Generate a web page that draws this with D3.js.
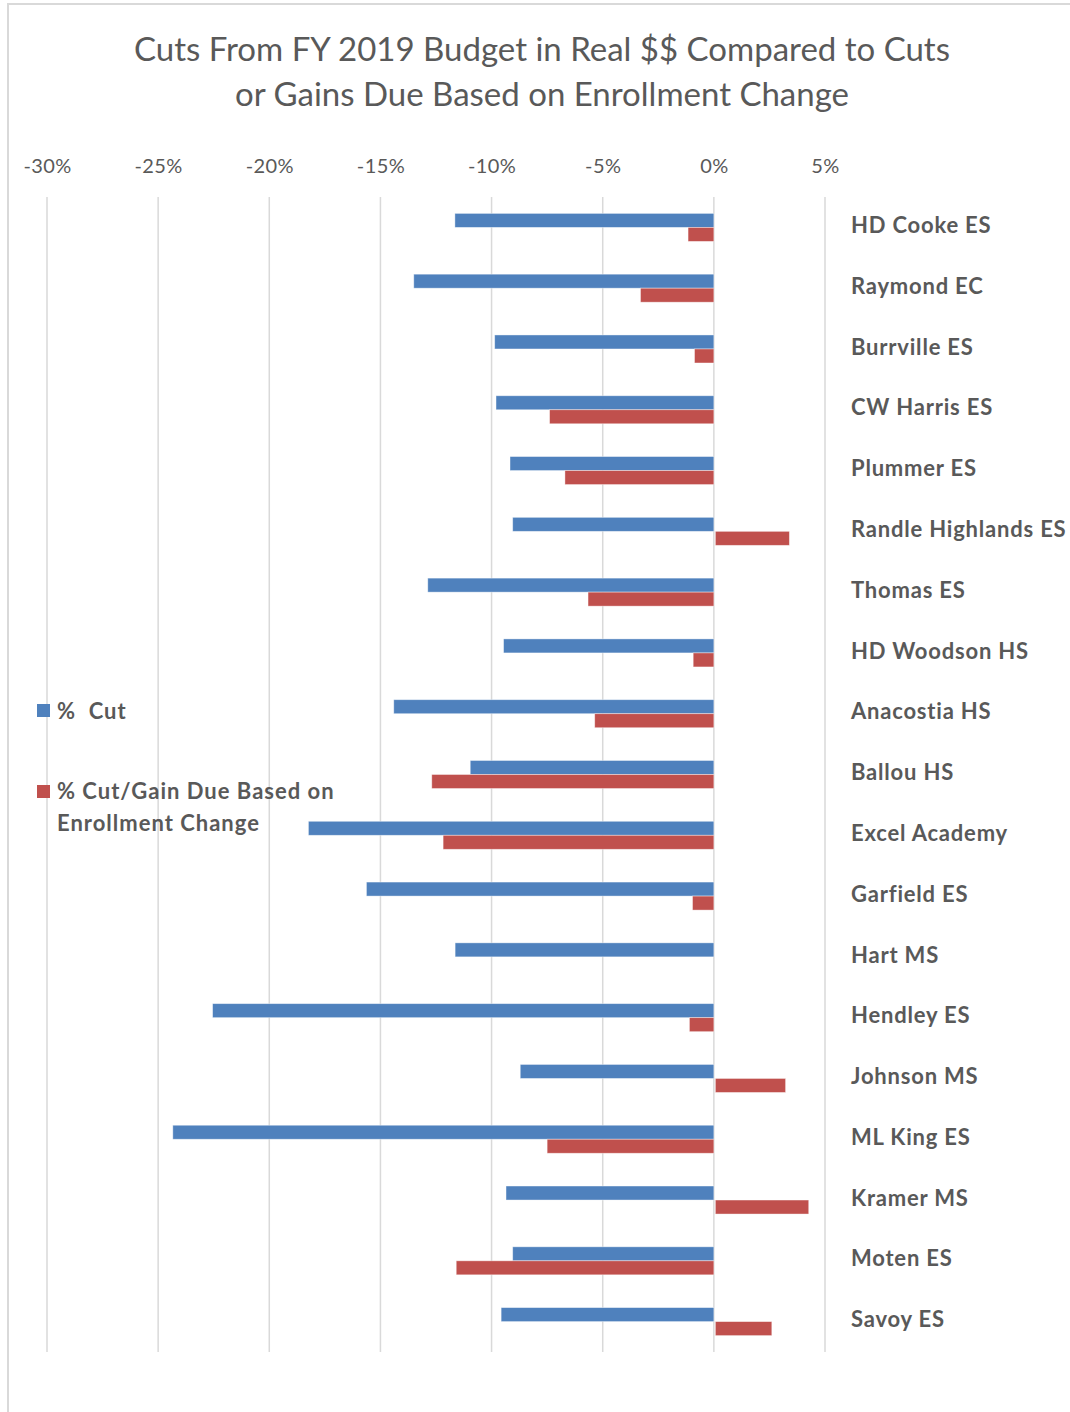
<!DOCTYPE html>
<html><head><meta charset="utf-8">
<script src="https://cdn.jsdelivr.net/npm/d3@7"></script>
<style>
html,body{margin:0;padding:0;background:#fff;}
svg{display:block;}
</style></head>
<body>
<script>
const categories = ["HD Cooke ES","Raymond EC","Burrville ES","CW Harris ES","Plummer ES","Randle Highlands ES","Thomas ES","HD Woodson HS","Anacostia HS","Ballou HS","Excel Academy","Garfield ES","Hart MS","Hendley ES","Johnson MS","ML King ES","Kramer MS","Moten ES","Savoy ES"];
const pctCut = [-11.65,-13.5,-9.86,-9.8,-9.17,-9.05,-12.87,-9.46,-14.4,-10.96,-18.24,-15.63,-11.64,-22.55,-8.71,-24.34,-9.35,-9.05,-9.57];
const pctEnroll = [-1.16,-3.3,-0.87,-7.39,-6.7,3.33,-5.66,-0.93,-5.36,-12.69,-12.18,-0.96,0,-1.1,3.16,-7.5,4.2,-11.59,2.54];
const seriesNames = ["%  Cut","% Cut/Gain Due Based on Enrollment Change"];
const tickValues = [-30,-25,-20,-15,-10,-5,0,5];
const titleLines = ["Cuts From FY 2019 Budget in Real $$ Compared to Cuts","or Gains Due Based on Enrollment Change"];

const W = 1070, H = 1412;
const colors = ["#4f81bd","#c0504d"];
const textColor = "#595959";
const font = "Lato, 'Open Sans', sans-serif";

const svg = d3.select("body").append("svg").attr("width", W).attr("height", H);
svg.append("rect").attr("width", W).attr("height", H).attr("fill", "#fff");
// chart frame
svg.append("path").attr("d", `M8,${H} L8,4 L${W},4`).attr("fill","none").attr("stroke","#d9d9d9").attr("stroke-width",2);

// title
svg.append("text").attr("x", 542).attr("y", 61).attr("text-anchor","middle")
  .attr("font-family", font).attr("font-size", 33).attr("fill", textColor)
  .selectAll("tspan").data(titleLines).join("tspan")
  .attr("x", 542).attr("dy", (d,i)=> i===0?0:45).text(d=>d);

const x = d3.scaleLinear().domain([-30, 5]).range([47, 825]);
const y = d3.scaleBand().domain(categories).range([197, 1352]).paddingInner(0).paddingOuter(0);
const inner = d3.scaleBand().domain([0,1]).range([0, y.bandwidth()]).paddingInner(0).paddingOuter(1.17);

// gridlines
svg.append("g").selectAll("line").data(tickValues).join("line")
  .attr("x1", d=>x(d)).attr("x2", d=>x(d)).attr("y1", 197).attr("y2", 1352)
  .attr("stroke", "#d9d9d9").attr("stroke-width", 1.5);

// top axis labels
const axis = d3.axisTop(x).tickValues(tickValues).tickFormat(d => d + "%").tickSize(0).tickPadding(0);
const ag = svg.append("g").attr("transform", "translate(0,173)").call(axis);
ag.select(".domain").remove();
ag.selectAll("text").attr("font-family", font).attr("font-size", 20).attr("letter-spacing", 0.4).attr("fill", textColor);

// bars
const series = [pctCut, pctEnroll];
series.forEach((vals, si) => {
  svg.append("g").selectAll("rect").data(vals).join("rect")
    .attr("x", d => x(Math.min(0, d)) + (d > 0 ? 1.5 : 0))
    .attr("width", d => Math.abs(x(d) - x(0)))
    .attr("y", (d,i) => y(categories[i]) + inner(si))
    .attr("height", inner.bandwidth())
    .attr("fill", colors[si])
    .attr("stroke", "#fff").attr("stroke-opacity", 0.5).attr("stroke-width", 0.8);
});

// category labels
svg.append("g").selectAll("text").data(categories).join("text")
  .attr("x", 851).attr("y", d => y(d) + y.bandwidth()/2)
  .attr("dominant-baseline", "middle")
  .attr("font-family", font).attr("font-weight", "bold").attr("font-size", 22).attr("letter-spacing", 0.8).attr("fill", textColor)
  .text(d => d);

// legend
const lg = svg.append("g");
lg.append("rect").attr("x", 37).attr("y", 704).attr("width", 13).attr("height", 13).attr("fill", colors[0]);
lg.append("text").attr("x", 57).attr("y", 719).attr("font-family", font).attr("font-weight","bold")
  .attr("font-size", 22).attr("letter-spacing", 1).attr("fill", textColor).attr("xml:space","preserve").style("white-space","pre").text(seriesNames[0]);
lg.append("rect").attr("x", 37).attr("y", 785).attr("width", 13).attr("height", 13).attr("fill", colors[1]);
lg.append("text").attr("x", 57).attr("y", 799).attr("font-family", font).attr("font-weight","bold")
  .attr("font-size", 22).attr("letter-spacing", 1).attr("fill", textColor)
  .selectAll("tspan").data(["% Cut/Gain Due Based on","Enrollment Change"]).join("tspan")
  .attr("x", 57).attr("dy", (d,i)=> i===0?0:32).text(d=>d);
</script>
</body></html>
